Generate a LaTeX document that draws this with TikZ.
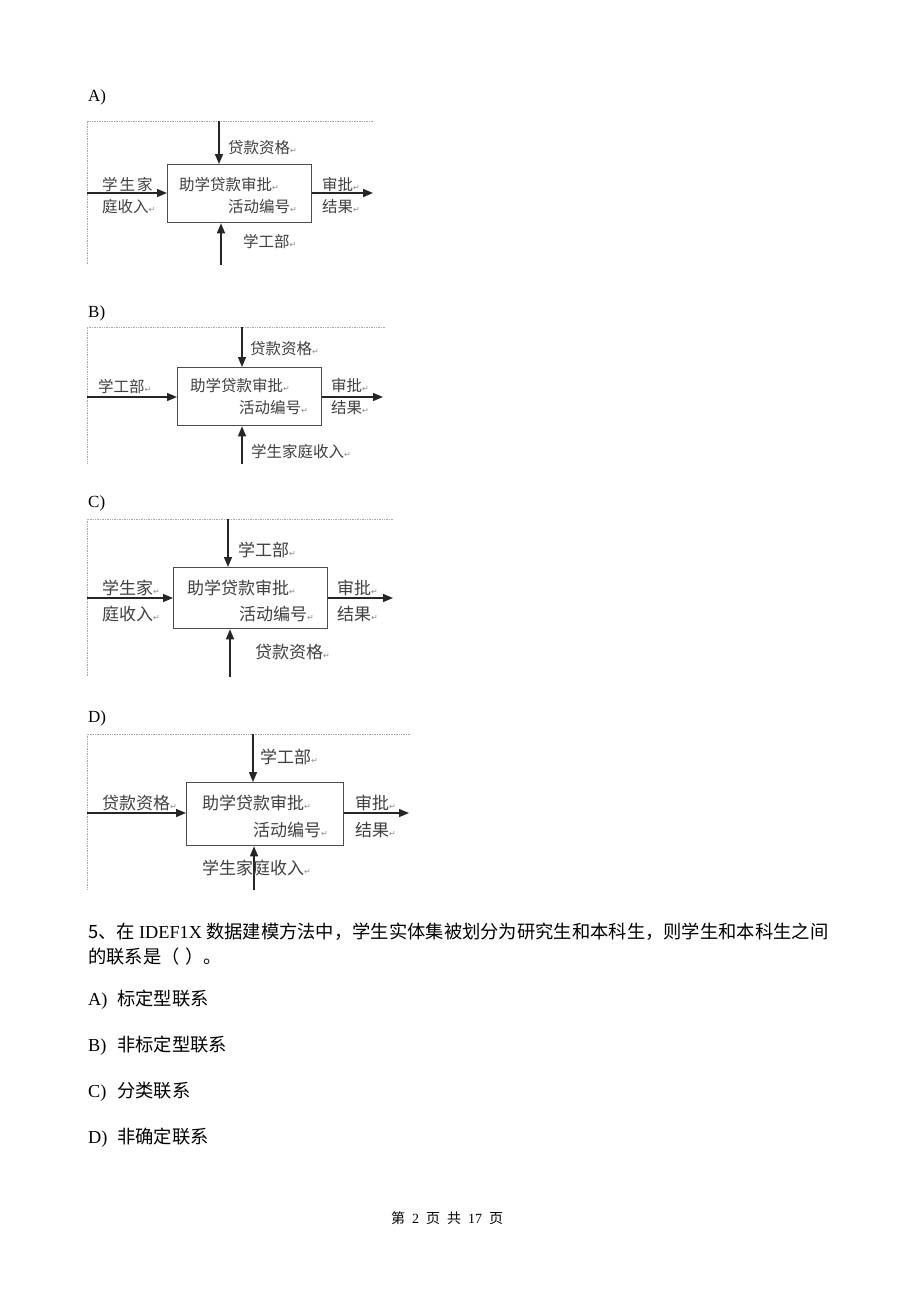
\documentclass[tikz,border=0pt]{standalone}
\usepackage{fontspec}
\setmainfont{Liberation Serif}
\newfontfamily\cjk{Noto Sans CJK SC}
\newfontfamily\dejavu{DejaVu Sans}
\usetikzlibrary{arrows.meta}
\newcommand\rmk{{\dejavu\fontsize{8}{8}\selectfont\color{black!45}↵}}
\tikzset{
 frameline/.style={draw=black!35, line width=0.7pt, densely dotted},
 procbox/.style={draw=black!70, line width=1.3pt, inner sep=0, anchor=north west},
 flow/.style={draw=black!85, line width=1.4pt, -{Triangle[length=10pt,width=8pt]}},
 lbl/.style={font=\cjk\fontsize{15.5}{18}\selectfont, text=black!75, inner sep=0, anchor=west},
 lblb/.style={font=\cjk\fontsize{17}{19}\selectfont, text=black!75, inner sep=0, anchor=west},
 optlbl/.style={font=\fontsize{17}{19}\selectfont, inner sep=0, anchor=west},
 qtext/.style={font=\cjk\fontsize{18.3}{22}\selectfont, inner sep=0, anchor=west},
}
\begin{document}
\begin{tikzpicture}[x=1pt,y=-1pt]
\useasboundingbox[fill=white] (0,0) rectangle (920,1302);

% ---------- A ----------
\node[optlbl] (labA) at (88,97) {A)};
\coordinate (aTop) at (219,121);
\coordinate (aBot) at (221,265);
\coordinate (aL) at (87,193);
\coordinate (aR) at (373,193);
\coordinate (aFr) at (373,121);
\coordinate (aFc) at (87,121);
\draw[frameline] (aFr) -- (aFc) -- (aBot -| aFc);
\node[procbox, minimum width=144pt, minimum height=58pt] (boxA) at (167,164) {};
\draw[flow] (aTop) -- (aTop |- boxA.north);
\draw[flow] (aBot) -- (aBot |- boxA.south);
\draw[flow] (aL) -- (aL -| boxA.west);
\draw[flow] (aL -| boxA.east) -- (aR);
\node[lbl] (aCtl) at (228,148) {贷款资格\rmk};
\node[lbl] (aT1) at (179,185) {助学贷款审批\rmk};
\node[lbl] (aT2) at (228,207) {活动编号\rmk};
\node[lbl] (aIn1) at (102,185) {学\hspace{2pt}生\hspace{2pt}家};
\node[lbl] (aIn2) at (102,207) {庭收入\rmk};
\node[lbl] (aOut1) at (322,185) {审批\rmk};
\node[lbl] (aOut2) at (322,207) {结果\rmk};
\node[lbl] (aMech) at (243,242) {学工部\rmk};

% ---------- B ----------
\node[optlbl] (labB) at (88,313) {B)};
\coordinate (bTop) at (242,327);
\coordinate (bBot) at (242,464);
\coordinate (bL) at (87,397);
\coordinate (bR) at (383,397);
\coordinate (bFr) at (385,327);
\coordinate (bFc) at (87,327);
\draw[frameline] (bFr) -- (bFc) -- (bBot -| bFc);
\node[procbox, minimum width=144pt, minimum height=58pt] (boxB) at (177,367) {};
\draw[flow] (bTop) -- (bTop |- boxB.north);
\draw[flow] (bBot) -- (bBot |- boxB.south);
\draw[flow] (bL) -- (bL -| boxB.west);
\draw[flow] (bL -| boxB.east) -- (bR);
\node[lbl] (bCtl) at (250,349) {贷款资格\rmk};
\node[lbl] (bT1) at (190,386) {助学贷款审批\rmk};
\node[lbl] (bT2) at (239,408) {活动编号\rmk};
\node[lbl] (bIn) at (98,387) {学工部\rmk};
\node[lbl] (bOut1) at (331,386) {审批\rmk};
\node[lbl] (bOut2) at (331,408) {结果\rmk};
\node[lbl] (bMech) at (251,452) {学生家庭收入\rmk};

% ---------- C ----------
\node[optlbl] (labC) at (88,503) {C)};
\coordinate (cTop) at (228,519);
\coordinate (cBot) at (230,677);
\coordinate (cL) at (87,598);
\coordinate (cR) at (393,598);
\coordinate (cFr) at (393,519);
\coordinate (cFc) at (87,519);
\draw[frameline] (cFr) -- (cFc) -- (cBot -| cFc);
\node[procbox, minimum width=154pt, minimum height=61pt] (boxC) at (173,567) {};
\draw[flow] (cTop) -- (cTop |- boxC.north);
\draw[flow] (cBot) -- (cBot |- boxC.south);
\draw[flow] (cL) -- (cL -| boxC.west);
\draw[flow] (cL -| boxC.east) -- (cR);
\node[lblb] (cCtl) at (238,550) {学工部\rmk};
\node[lblb] (cT1) at (187,588) {助学贷款审批\rmk};
\node[lblb] (cT2) at (239,614) {活动编号\rmk};
\node[lblb] (cIn1) at (102,588) {学生家\rmk};
\node[lblb] (cIn2) at (102,614) {庭收入\rmk};
\node[lblb] (cOut1) at (337,588) {审批\rmk};
\node[lblb] (cOut2) at (337,614) {结果\rmk};
\node[lblb] (cMech) at (255,652) {贷款资格\rmk};

% ---------- D ----------
\node[optlbl] (labD) at (88,718) {D)};
\coordinate (dTop) at (253,734);
\coordinate (dBot) at (254,890);
\coordinate (dL) at (87,813);
\coordinate (dR) at (409,813);
\coordinate (dFr) at (410,734);
\coordinate (dFc) at (87,734);
\draw[frameline] (dFr) -- (dFc) -- (dBot -| dFc);
\node[procbox, minimum width=157pt, minimum height=63pt] (boxD) at (186,782) {};
\draw[flow] (dTop) -- (dTop |- boxD.north);
\draw[flow] (dBot) -- (dBot |- boxD.south);
\draw[flow] (dL) -- (dL -| boxD.west);
\draw[flow] (dL -| boxD.east) -- (dR);
\node[lblb] (dCtl) at (260,757) {学工部\rmk};
\node[lblb] (dT1) at (202,803) {助学贷款审批\rmk};
\node[lblb] (dT2) at (253,830) {活动编号\rmk};
\node[lblb] (dIn) at (102,803) {贷款资格\rmk};
\node[lblb] (dOut1) at (355,803) {审批\rmk};
\node[lblb] (dOut2) at (355,830) {结果\rmk};
\node[lblb] (dMech) at (202,868) {学生家庭收入\rmk};

% ---------- question ----------
\node[qtext] (q1) at (88,932) {5、在 {\rmfamily IDEF1X} 数据建模方法中，学生实体集被划分为研究生和本科生，则学生和本科生之间};
\node[qtext] (q2) at (88,957) {的联系是（\hspace{6pt}）。};
\node[qtext] (oA) at (88,1000) {\makebox[29pt][l]{\rmfamily A)}标定型联系};
\node[qtext] (oB) at (88,1046) {\makebox[29pt][l]{\rmfamily B)}非标定型联系};
\node[qtext] (oC) at (88,1092) {\makebox[29pt][l]{\rmfamily C)}分类联系};
\node[qtext] (oD) at (88,1138) {\makebox[29pt][l]{\rmfamily D)}非确定联系};
\node[font=\cjk\fontsize{14}{16}\selectfont, inner sep=0] (foot) at (447,1218) {第\hspace{7pt}{\rmfamily 2}\hspace{7pt}页\hspace{7pt}共\hspace{7pt}{\rmfamily 17}\hspace{7pt}页};
\end{tikzpicture}
\end{document}
